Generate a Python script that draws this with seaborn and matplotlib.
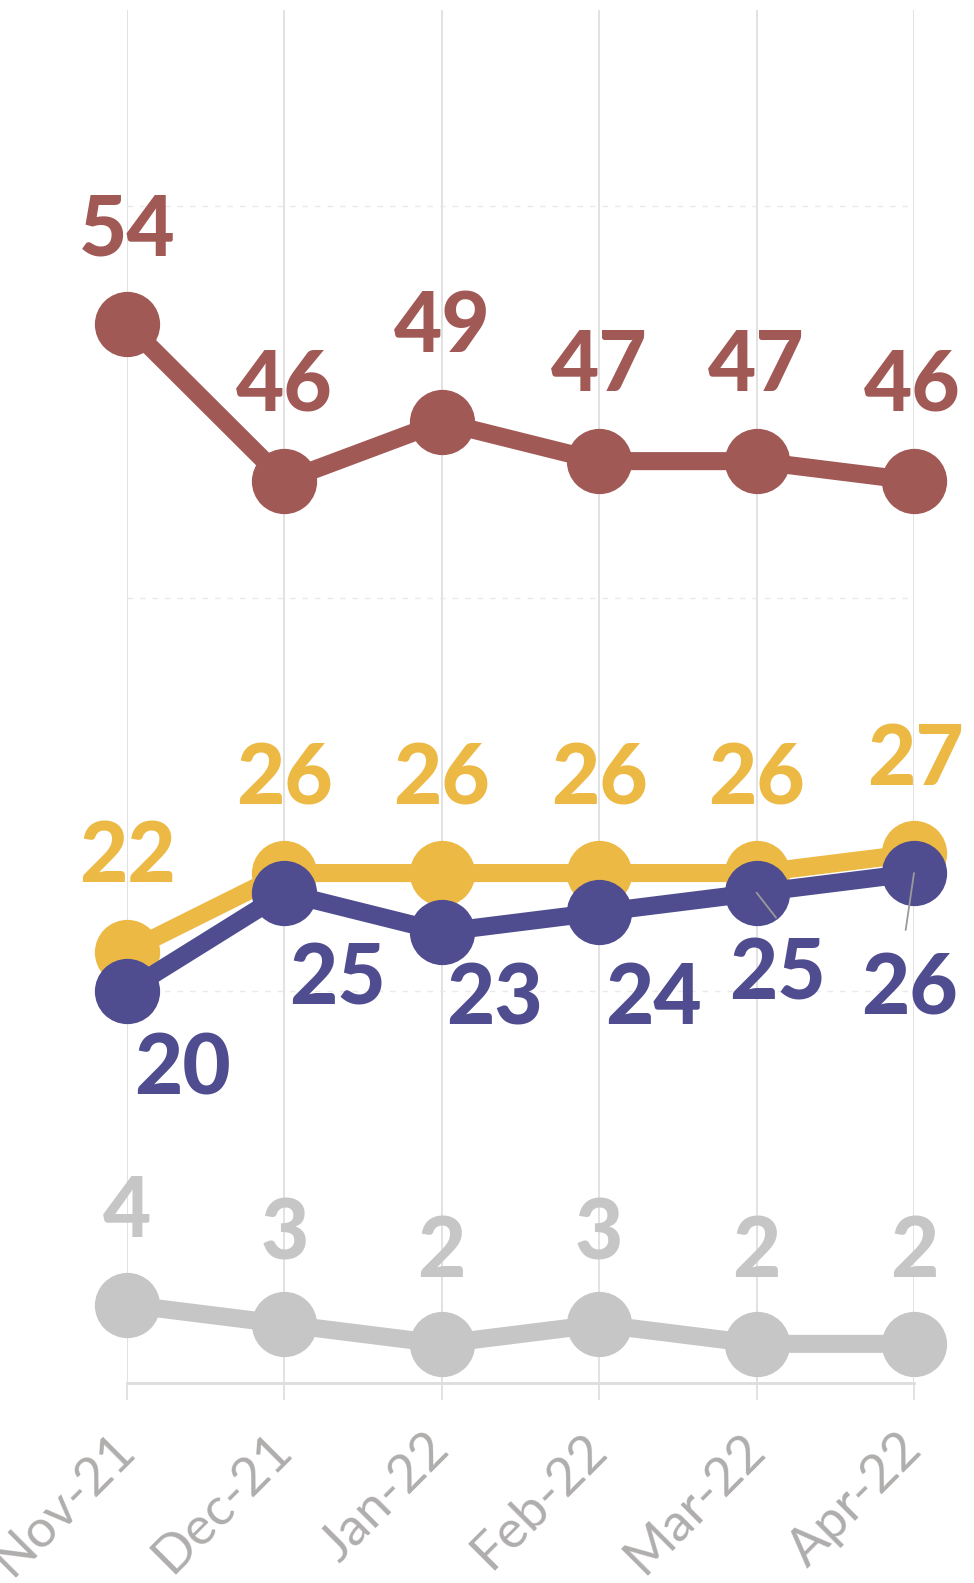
import numpy as np
import pandas as pd
import matplotlib.pyplot as plt
import seaborn as sns

# chart data
months = ['Nov-21', 'Dec-21', 'Jan-22', 'Feb-22', 'Mar-22', 'Apr-22']
red_vals = [54, 46, 49, 47, 47, 46]
yellow_vals = [22, 26, 26, 26, 26, 27]
purple_vals = [20, 25, 23, 24, 25, 26]
grey_vals = [4, 3, 2, 3, 2, 2]

# label offsets in points (label placement only)
red_off = [(0, 67), (0, 68), (0, 68), (0, 68), (0, 68), (-1, 68)]
yellow_off = [(0, 68), (0, 67), (0, 67), (0, 67), (0, 67), (1, 67)]
purple_off = [(40, -57), (38, -63), (38, -49), (39, -63), (15, -59), (-3, -84)]
grey_off = [(0, 66), (0, 64), (0, 66), (0, 64), (0, 66), (0, 66)]

series = [
    (grey_vals, '#c6c6c6', grey_off),
    (red_vals, '#a15955', red_off),
    (yellow_vals, '#edb945', yellow_off),
    (purple_vals, '#4f4c8f', purple_off),
]

sns.set_style('white')
plt.rcParams['font.family'] = ['Lato', 'DejaVu Sans']

fig = plt.figure(figsize=(9.74, 15.83), dpi=100)
ax = fig.add_axes([0.1304, 0.1263, 0.808, 0.8674])

x = np.arange(len(months))
z = 3
for vals, color, offs in series:
    df = pd.DataFrame({'x': x, 'y': vals})
    sns.lineplot(data=df, x='x', y='y', ax=ax, color=color, marker='o',
                 markersize=47, markeredgewidth=0, linewidth=13,
                 clip_on=False, zorder=z)
    for i, v in enumerate(vals):
        ax.annotate(str(v), xy=(i, v), xytext=offs[i],
                    textcoords='offset points', ha='center', va='center',
                    fontsize=60, fontweight='black', color=color,
                    zorder=10)
    z += 1

# small leader lines for the last two purple labels
for i, end in [(4, (14, -18)), (5, (-6, -41))]:
    ax.annotate('', xy=(i, purple_vals[i]), xytext=end,
                textcoords='offset points',
                arrowprops=dict(arrowstyle='-', color='#9a9a9a', lw=1.3,
                                shrinkA=0, shrinkB=0),
                zorder=11)

ax.set_xlim(0, 5)
ax.set_ylim(0, 70)
ax.set_xticks(x)
ax.set_xticklabels(months, rotation=45, ha='right', va='center',
                   rotation_mode='anchor', fontsize=38, fontweight='normal',
                   color='#b0adad')
ax.set_yticks([20, 40, 60])
ax.set_yticklabels([])
ax.tick_params(axis='y', length=0)
ax.tick_params(axis='x', bottom=True, direction='out', length=12, width=1.2,
               color='#dddddd', pad=30)
ax.grid(axis='x', color='#dddddd', linewidth=1.2)
ax.grid(axis='y', color='#eaeaea', linewidth=1.0, linestyle=(0, (4, 5)))
ax.set_axisbelow(True)
ax.set_xlabel('')
ax.set_ylabel('')
for s in ['top', 'left', 'right']:
    ax.spines[s].set_visible(False)
ax.spines['bottom'].set_color('#dddddd')
ax.spines['bottom'].set_linewidth(2)

plt.savefig('out.png', dpi=100)
